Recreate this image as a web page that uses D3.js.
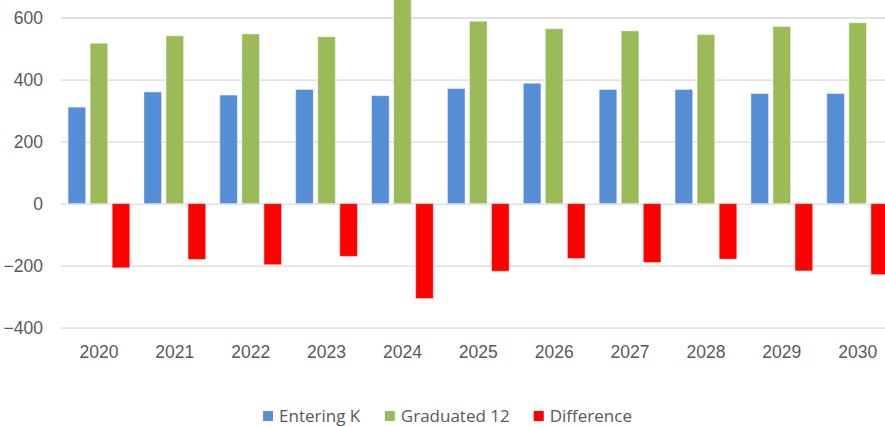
<!DOCTYPE html>
<html>
<head>
<meta charset="utf-8">
<script src="https://cdn.jsdelivr.net/npm/d3@7"></script>
<style>
  body { margin: 0; background: #fff; }
  svg { display: block; font-family: "Open Sans", "Liberation Sans", sans-serif; }
</style>
</head>
<body>
<div id="wrapper"></div>
<script>
const years = ["2020", "2021", "2022", "2023", "2024", "2025", "2026", "2027", "2028", "2029", "2030"];
const enteringK = [311, 360, 350, 368, 348, 371, 388, 368, 368, 355, 355];
const graduated12 = [517, 541, 547, 538, 660, 588, 564, 557, 545, 571, 583];
const difference = [-207, -180, -197, -170, -306, -218, -177, -190, -179, -217, -229];
const seriesNames = ["Entering K", "Graduated 12", "Difference"];
const seriesColors = ["#558ed5", "#9bbb59", "#ff0000"];
const yTicks = [-400, -200, 0, 200, 400, 600];

function buildPlot() {
    const dimension = {
        width: 885,
        height: 427,
        margin: { top: 17.5, left: 61, bottom: 99.3, right: -10.6 }
    };
    dimension.boundedWidth = dimension.width - dimension.margin.left - dimension.margin.right;
    dimension.boundedHeight = dimension.height - dimension.margin.top - dimension.margin.bottom;

    const svg = d3.select("#wrapper").append("svg")
        .attr("width", dimension.width)
        .attr("height", dimension.height);

    const bounded = svg.append("g")
        .attr("transform", `translate(${dimension.margin.left}, ${dimension.margin.top})`);

    const yScaler = d3.scaleLinear()
        .domain([-400, 600])
        .range([dimension.boundedHeight, 0]);

    const xScaler = d3.scaleBand()
        .domain(years)
        .range([0, dimension.boundedWidth]);

    const xSub = d3.scaleBand()
        .domain(seriesNames)
        .range([0, xScaler.bandwidth()])
        .paddingInner(0.2)
        .paddingOuter(0.32);

    // gridlines + y labels
    const yAxis = d3.axisLeft(yScaler)
        .tickValues(yTicks)
        .tickSize(-dimension.boundedWidth)
        .tickPadding(18);
    const yg = bounded.append("g").call(yAxis);
    yg.select(".domain").remove();
    yg.selectAll(".tick line").attr("stroke", "#d9d9d9").attr("stroke-width", 1.3);
    yg.selectAll(".tick text")
        .attr("fill", "#595959")
        .style("font-size", "17.5px");

    const rows = years.map((y, i) => ({
        year: y,
        values: [enteringK[i], graduated12[i], difference[i]]
    }));

    const groups = bounded.selectAll(".year")
        .data(rows)
        .join("g")
        .attr("transform", d => `translate(${xScaler(d.year)}, 0)`);

    groups.selectAll("rect")
        .data(d => d.values.map((v, k) => ({ v, k })))
        .join("rect")
        .attr("x", d => xSub(seriesNames[d.k]))
        .attr("width", xSub.bandwidth())
        .attr("y", d => yScaler(Math.max(0, d.v)))
        .attr("height", d => Math.abs(yScaler(d.v) - yScaler(0)))
        .attr("fill", d => seriesColors[d.k])
        .attr("stroke", "rgba(255,255,255,0.45)")
        .attr("stroke-width", 1);

    // x labels
    const xAxis = d3.axisBottom(xScaler).tickSize(0).tickPadding(17.5);
    const xg = bounded.append("g")
        .attr("transform", `translate(0, ${dimension.boundedHeight})`)
        .call(xAxis);
    xg.select(".domain").remove();
    xg.selectAll(".tick text")
        .attr("fill", "#595959")
        .style("font-size", "17.5px");

    // legend
    const legend = svg.append("g");
    const items = legend.selectAll("g")
        .data(seriesNames)
        .join("g");
    items.append("rect")
        .attr("width", 10)
        .attr("height", 10)
        .attr("y", 411)
        .attr("fill", (d, i) => seriesColors[i]);
    items.append("text")
        .attr("x", 16)
        .attr("y", 422)
        .attr("fill", "#595959")
        .style("font-size", "17px")
        .text(d => d);
    let offset = 0;
    const gap = 24;
    items.each(function () {
        const w = this.getBBox().width;
        d3.select(this).attr("transform", `translate(${offset}, 0)`);
        offset += w + gap;
    });
    const total = offset - gap;
    legend.attr("transform", `translate(${447.5 - total / 2}, 0)`);
}

buildPlot();
</script>
</body>
</html>
